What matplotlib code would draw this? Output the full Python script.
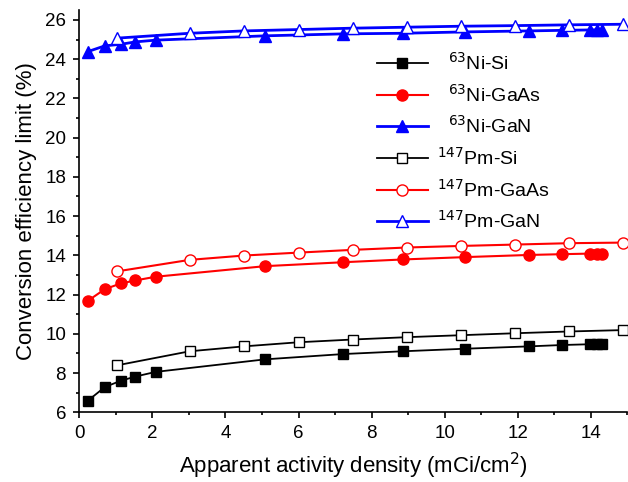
import matplotlib.pyplot as plt
from matplotlib.ticker import MultipleLocator

plt.rcParams['font.family'] = ['Liberation Sans', 'DejaVu Sans']

# 63Ni sources
ni_x = [0.24, 0.70, 1.14, 1.53, 2.09, 5.09, 7.23, 8.85, 10.55, 12.30, 13.22, 13.99, 14.17, 14.30]
ni_si = [6.60, 7.29, 7.61, 7.82, 8.06, 8.70, 8.97, 9.11, 9.24, 9.36, 9.43, 9.47, 9.48, 9.48]
ni_gaas = [11.69, 12.28, 12.57, 12.72, 12.91, 13.45, 13.65, 13.79, 13.91, 14.02, 14.06, 14.09, 14.09, 14.09]
ni_gan = [24.39, 24.68, 24.76, 24.88, 24.97, 25.19, 25.29, 25.32, 25.39, 25.44, 25.47, 25.49, 25.50, 25.51]

# 147Pm sources
pm_x = [1.02, 3.02, 4.50, 6.00, 7.48, 8.97, 10.45, 11.93, 13.41, 14.87]
pm_si = [8.39, 9.11, 9.36, 9.57, 9.71, 9.83, 9.93, 10.03, 10.12, 10.19]
pm_gaas = [13.18, 13.77, 13.99, 14.14, 14.28, 14.40, 14.48, 14.55, 14.62, 14.65]
pm_gan = [25.07, 25.32, 25.44, 25.51, 25.58, 25.63, 25.68, 25.71, 25.75, 25.78]

fig = plt.figure(figsize=(6.28, 4.82), dpi=100)
ax = fig.add_axes([0.1263, 0.1446, 0.8727, 0.8344])

ms = 7
ax.plot(ni_x, ni_si, '-s', color='black', lw=1.3, ms=ms, label='  $^{63}$Ni-Si')
ax.plot(ni_x, ni_gaas, '-o', color='red', lw=1.5, ms=ms + 1, label='  $^{63}$Ni-GaAs')
ax.plot(ni_x, ni_gan, '-^', color='blue', lw=2, ms=ms + 1, label='  $^{63}$Ni-GaN')
ax.plot(pm_x, pm_si, '-s', color='black', mfc='white', lw=1.3, ms=ms, label='$^{147}$Pm-Si')
ax.plot(pm_x, pm_gaas, '-o', color='red', mfc='white', lw=1.5, ms=ms + 1, label='$^{147}$Pm-GaAs')
ax.plot(pm_x, pm_gan, '-^', color='blue', mfc='white', lw=2, ms=ms + 1, label='$^{147}$Pm-GaN')

ax.set_xlim(0, 15)
ax.set_ylim(6, 26.5)
ax.xaxis.set_major_locator(MultipleLocator(2))
ax.xaxis.set_minor_locator(MultipleLocator(1))
ax.yaxis.set_minor_locator(MultipleLocator(1))
ax.set_yticks(range(6, 27, 2))
ax.spines['top'].set_visible(False)
ax.spines['right'].set_visible(False)
ax.spines['left'].set_linewidth(1.2)
ax.spines['bottom'].set_linewidth(1.2)
ax.tick_params(which='major', direction='out', length=4.5, width=1.2, labelsize=13.5, pad=5)
ax.tick_params(which='minor', direction='out', length=2.5, width=1.2)

ax.set_xlabel('Apparent activity density (mCi/cm$^2$)', fontsize=16, labelpad=6)
ax.set_ylabel('Conversion efficiency limit (%)', fontsize=16, labelpad=6)

ax.legend(loc='upper left', bbox_to_anchor=(377 / 628, 1 - 52 / 482),
          bbox_transform=fig.transFigure, frameon=False, fontsize=14,
          handlelength=2.6, borderpad=0, borderaxespad=0, labelspacing=0.5,
          handletextpad=0.5)

fig.savefig('out.png', dpi=100)
